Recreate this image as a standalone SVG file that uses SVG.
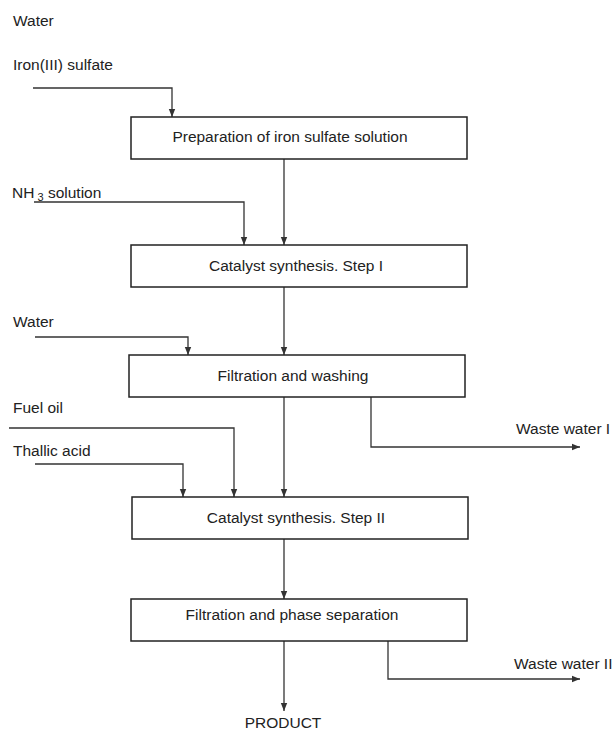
<svg xmlns="http://www.w3.org/2000/svg" width="616" height="731" viewBox="0 0 616 731">
<style>
  text { font-family: "Liberation Sans", Arial, sans-serif; font-size: 15.5px; fill: #222; }
  .box { fill: #fff; stroke: #222; stroke-width: 1.5; }
  .ln { fill: none; stroke: #333; stroke-width: 1.3; }
  .mid { text-anchor: middle; }
</style>
<defs>
  <marker id="ah" viewBox="0 0 10 10" refX="10" refY="5" markerWidth="8" markerHeight="8" markerUnits="userSpaceOnUse" orient="auto">
    <path d="M0,1 L10,5 L0,9 Z" fill="#333"/>
  </marker>
</defs>
<rect width="616" height="731" fill="#fff"/>

<g id="connectors">
  <polyline class="ln" points="33,88 172,88 172,117" marker-end="url(#ah)"/>
  <polyline class="ln" points="284,159 284,245" marker-end="url(#ah)"/>
  <polyline class="ln" points="34,202 244,202 244,245" marker-end="url(#ah)"/>
  <polyline class="ln" points="284,287 284,355" marker-end="url(#ah)"/>
  <polyline class="ln" points="35,337 188,337 188,355" marker-end="url(#ah)"/>
  <polyline class="ln" points="371,397 371,447 580,447" marker-end="url(#ah)"/>
  <polyline class="ln" points="9,428 234,428 234,497" marker-end="url(#ah)"/>
  <polyline class="ln" points="35,464 183,464 183,497" marker-end="url(#ah)"/>
  <polyline class="ln" points="284,397 284,497" marker-end="url(#ah)"/>
  <polyline class="ln" points="284,539 284,599" marker-end="url(#ah)"/>
  <polyline class="ln" points="388,641 388,679 580,679" marker-end="url(#ah)"/>
  <polyline class="ln" points="284,641 284,711" marker-end="url(#ah)"/>
</g>

<g id="in-water1"><text x="13" y="26">Water</text></g>
<g id="in-iron"><text x="13" y="70">Iron(III) sulfate</text></g>
<g id="in-nh3"><text x="12" y="198">NH<tspan font-size="11" dy="3"> 3</tspan><tspan dy="-3"> solution</tspan></text></g>
<g id="in-water2"><text x="13" y="327">Water</text></g>
<g id="in-fuel"><text x="13" y="413">Fuel oil</text></g>
<g id="in-thallic"><text x="13" y="456">Thallic acid</text></g>

<g id="box1">
  <rect class="box" x="131" y="117" width="336" height="42"/>
  <text class="mid" x="290" y="142">Preparation of iron sulfate solution</text>
</g>
<g id="box2">
  <rect class="box" x="131" y="245" width="336" height="42"/>
  <text class="mid" x="296" y="271">Catalyst synthesis. Step I</text>
</g>
<g id="box3">
  <rect class="box" x="129" y="355" width="336" height="42"/>
  <text class="mid" x="293" y="381">Filtration and washing</text>
</g>
<g id="box4">
  <rect class="box" x="132" y="497" width="336" height="42"/>
  <text class="mid" x="296" y="523">Catalyst synthesis. Step II</text>
</g>
<g id="box5">
  <rect class="box" x="131" y="599" width="336" height="42"/>
  <text class="mid" x="292" y="620">Filtration and phase separation</text>
</g>

<g id="out-waste1"><text x="516" y="434">Waste water I</text></g>
<g id="out-waste2"><text x="514" y="669">Waste water II</text></g>
<g id="out-product"><text class="mid" x="283" y="728">PRODUCT</text></g>
</svg>
